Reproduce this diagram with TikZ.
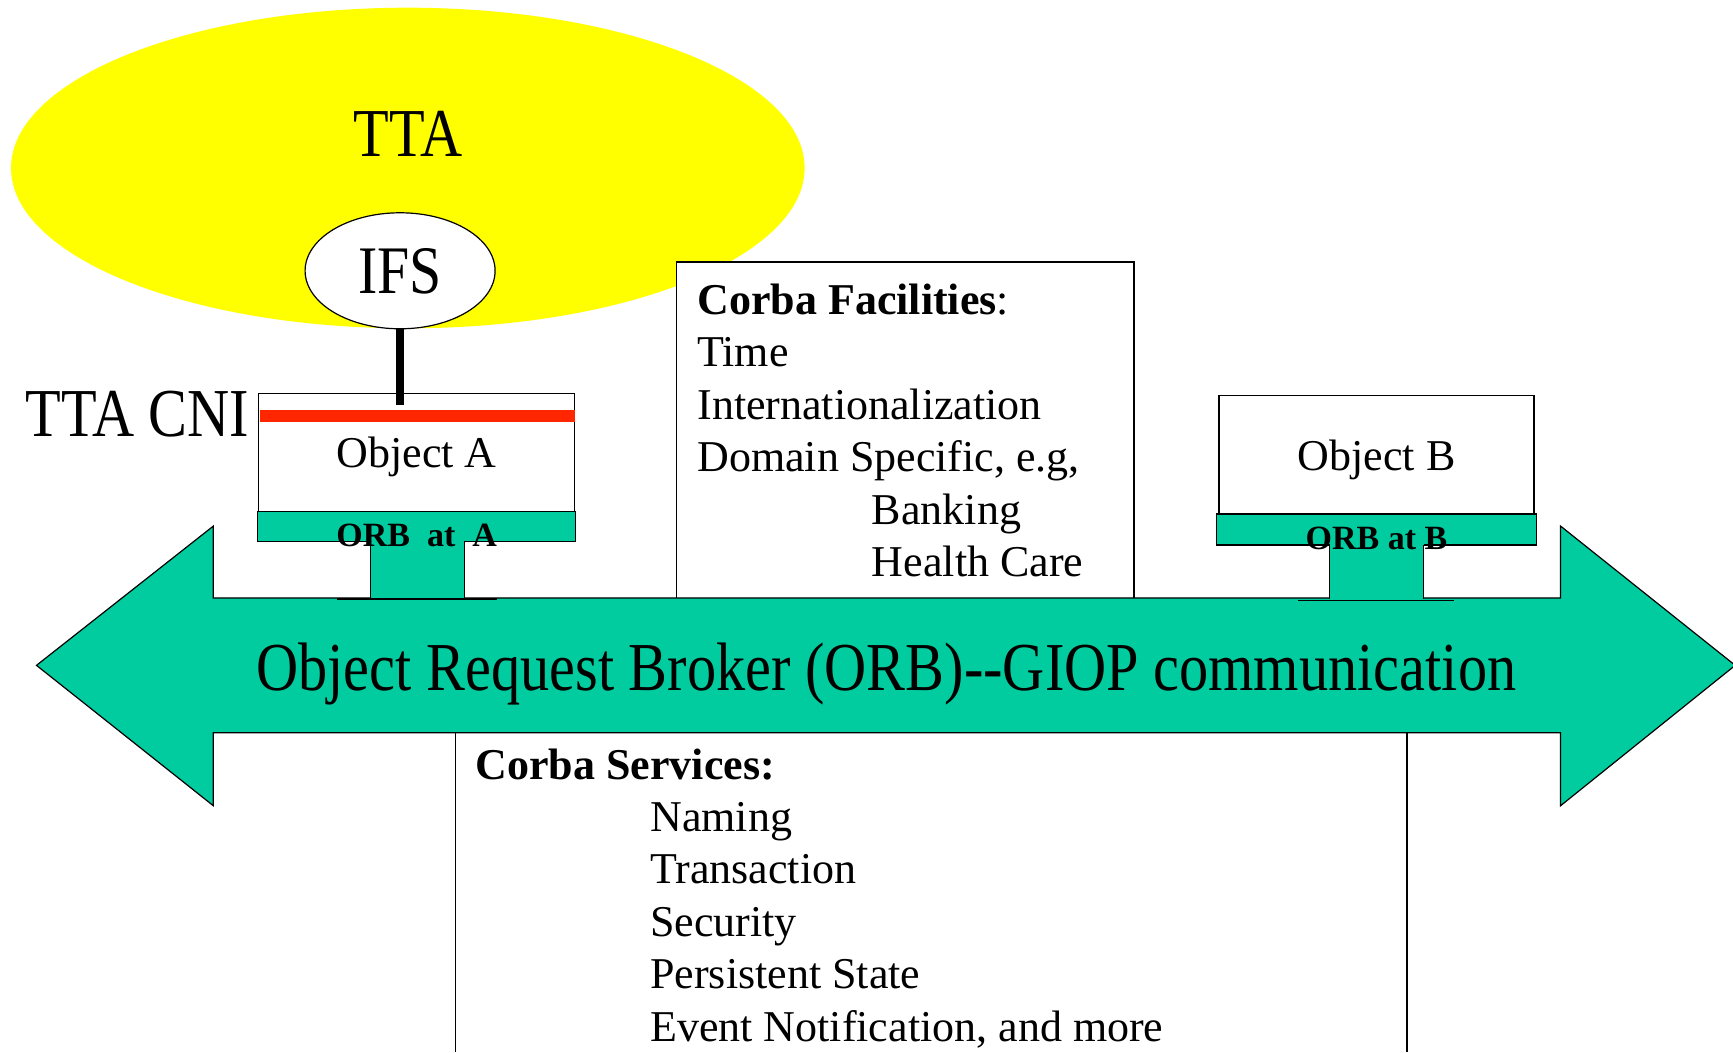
\documentclass[tikz,border=0pt]{standalone}
\usepackage{fontspec}
\setmainfont{Liberation Serif}
\newfontfamily\narrowserif[FakeStretch=0.85]{Liberation Serif}
\usetikzlibrary{shapes.geometric}
\definecolor{ttayellow}{HTML}{FFFF00}
\definecolor{orbteal}{HTML}{00CC9F}
\definecolor{cnired}{HTML}{FF2600}
\tikzset{
  ttaarea/.style={ellipse, fill=ttayellow, inner sep=0pt, minimum width=396.8pt, minimum height=160.3pt},
  bigtext/.style={font=\narrowserif\fontsize{34.3}{36}\selectfont, inner sep=0pt},
  ifsnode/.style={ellipse, draw=black, line width=0.6pt, fill=white, inner sep=0pt, text depth=0pt,
    minimum width=95pt, minimum height=58pt, font=\narrowserif\fontsize{34}{36}\selectfont},
  boxline/.style={draw=black, line width=0.6pt},
  listbox/.style={boxline, fill=white, align=flush left, inner xsep=10.5pt, inner ysep=0pt,
    font=\fontsize{22}{26.2}\selectfont},
  listtext/.style={align=flush left, inner sep=0pt, font=\fontsize{22}{26.2}\selectfont},
  objbox/.style={boxline, fill=white, minimum width=158pt, minimum height=59.1pt, inner sep=0pt,
    text depth=0pt, font=\fontsize{22}{24}\selectfont},
  orbbar/.style={boxline, fill=orbteal, minimum width=159.2pt, minimum height=15pt, inner sep=0pt},
  orblabel/.style={font=\fontsize{17}{18}\selectfont\bfseries, inner sep=0pt},
  broker/.style={boxline, fill=orbteal},
  cniline/.style={draw=cnired, line width=5.6pt},
  ifslink/.style={draw=black, line width=4.4pt}
}

\begin{document}
\begin{tikzpicture}[x=0.5526pt, y=-0.5526pt]
  \useasboundingbox (0,0) rectangle (1568,952);

  \node[ttaarea] (tta) at (369,152) {};
  \node[bigtext, anchor=base] (ttalabel) at (369,142) {TTA};
  \node[ifsnode] (ifs) at (362,245) {IFS};

  \node[listbox, minimum width=228.8pt, minimum height=168.5pt, text width=207.8pt] (facil) at (819,389.5)
    {\textbf{Corba Facilities}:\\ Time\\ Internationalization\\ Domain Specific, e.g,\\
     \hspace*{87.3pt}Banking\\ \hspace*{87.3pt}Health Care};
  \draw[boxline] (412,952) -- (412,663) -- (1273,663) -- (1273,952);
  \node[listtext, anchor=north west] (serv) at (430,677)
    {\textbf{Corba Services:}\\ \hspace*{87.3pt}Naming\\ \hspace*{87.3pt}Transaction\\
     \hspace*{87.3pt}Security\\ \hspace*{87.3pt}Persistent State\\
     \hspace*{87.3pt}Event Notification, and more};

  \draw[broker] (33,602) -- (193,476) -- (193,541) -- (1412,541) -- (1412,476) -- (1570,602)
    -- (1412,729) -- (1412,663) -- (193,663) -- (193,729) -- cycle;
  \node[bigtext, anchor=base] (giop) at (802,625) {Object Request Broker (ORB)-{}-GIOP communication};

  \node[objbox] (obja) at (377,409.5) {Object A};
  \node[orbbar] (orba) at (377,476.5) {};
  \fill[orbteal] (335,489) rectangle (420,541);
  \draw[boxline] (335,490) -- (335,541) (420,490) -- (420,541) (305,542) -- (450,542);
  \node[orblabel, anchor=base] (orbalabel) at ([yshift=-2.2pt]orba.south) {ORB\ \ at\ \ A};

  \node[objbox, minimum width=157.5pt] (objb) at (1245.5,411.5) {Object B};
  \node[orbbar, minimum width=159.7pt, minimum height=15.5pt] (orbb) at (1245.5,479) {};
  \fill[orbteal] (1203,492) rectangle (1288,542);
  \draw[boxline] (1203,493) -- (1203,542) (1288,493) -- (1288,542) (1174,543) -- (1316,543);
  \node[orblabel, anchor=base] (orbblabel) at ([yshift=-2.2pt]orbb.south) {ORB at B};

  \node[bigtext, anchor=base east] (cni) at (226,395) {TTA CNI};
  \coordinate (cnitop) at ([yshift=-6.1pt]obja.north);
  \draw[ifslink] (ifs.south) -- (ifs.south |- cnitop);
  \draw[cniline] ([xshift=1pt, yshift=-11.6pt]obja.north west) -- ([yshift=-11.6pt]obja.north east);
\end{tikzpicture}
\end{document}
